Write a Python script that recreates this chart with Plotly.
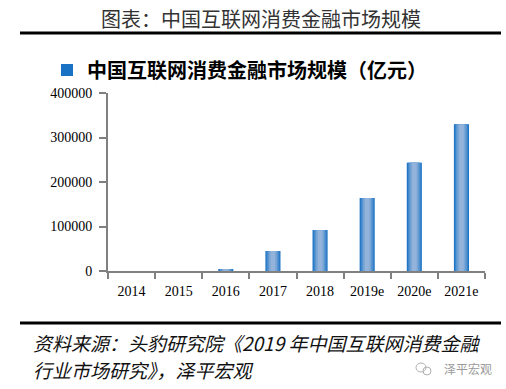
import plotly.graph_objects as go

categories = ["2014", "2015", "2016", "2017", "2018", "2019e", "2020e", "2021e"]
values = [0, 0, 4000, 45000, 92000, 164000, 243000, 330000]
series_name = "中国互联网消费金融市场规模（亿元）"
y_ticks = [0, 100000, 200000, 300000, 400000]

W, H = 506, 389
L, R, T, B = 108, 21, 93, 118
pw, ph = W - L - R, H - T - B

def px_x(x):
    return (x - L) / pw

def px_y(y):
    return (H - B - y) / ph

layers = [
    (0.32, "#1a72c4"),
    (0.28, "#3a84cb"),
    (0.23, "#5a95d0"),
    (0.17, "#78a6d5"),
    (0.10, "#93b3da"),
]

fig = go.Figure()
for i, (w, c) in enumerate(layers):
    fig.add_trace(go.Bar(
        x=categories, y=values, width=w, name=series_name,
        marker=dict(color=c, line=dict(width=0)),
        showlegend=(i == 0), hoverinfo="skip" if i else None,
    ))

fig.update_layout(
    width=W, height=H, margin=dict(l=L, r=R, t=T, b=B, autoexpand=False),
    barmode="overlay", plot_bgcolor="white", paper_bgcolor="white",
    font=dict(family="Liberation Serif", size=14, color="black"),
    showlegend=True,
    legend=dict(orientation="h", x=px_x(47), y=px_y(70), xanchor="left", yanchor="middle",
                font=dict(family="Noto Sans CJK SC", size=20, color="black", weight="bold"),
                bgcolor="rgba(0,0,0,0)", itemwidth=30, tracegroupgap=0),
    xaxis=dict(showline=True, linecolor="#808080", linewidth=2, ticks="outside",
               tickson="boundaries", ticklen=6, tickwidth=2, tickcolor="#808080",
               ticklabelstandoff=6, tickfont=dict(family="Liberation Serif", size=14),
               showgrid=False, fixedrange=True),
    yaxis=dict(range=[0, 400000], tickvals=y_ticks, ticktext=[str(v) for v in y_ticks],
               showline=True, linecolor="#808080", linewidth=2, ticks="outside",
               ticklen=7, tickwidth=2, tickcolor="#808080", showgrid=False, zeroline=False,
               tickfont=dict(family="Liberation Serif", size=14), ticklabelstandoff=4),
)

fig.add_annotation(text="图表：中国互联网消费金融市场规模", xref="paper", yref="paper",
                   x=px_x(261), y=px_y(18), showarrow=False,
                   xanchor="center", yanchor="middle",
                   font=dict(family="Noto Sans CJK SC", size=20, color="#333333"))
for yy in (33, 323):
    fig.add_shape(type="line", xref="paper", yref="paper",
                  x0=px_x(20), x1=px_x(501), y0=px_y(yy), y1=px_y(yy),
                  line=dict(color="black", width=3))
fig.add_annotation(text="<i>资料来源：头豹研究院《2019 年中国互联网消费金融</i>", xref="paper", yref="paper",
                   x=px_x(31), y=px_y(342), showarrow=False, xanchor="left", yanchor="middle",
                   font=dict(family="Noto Sans CJK SC", size=19, color="#111111"))
fig.add_annotation(text="<i>行业市场研究》，泽平宏观</i>", xref="paper", yref="paper",
                   x=px_x(31), y=px_y(369), showarrow=False, xanchor="left", yanchor="middle",
                   font=dict(family="Noto Sans CJK SC", size=19, color="#111111"))
fig.add_annotation(text="泽平宏观", xref="paper", yref="paper",
                   x=px_x(494), y=px_y(368), showarrow=False, xanchor="right", yanchor="middle",
                   font=dict(family="Noto Sans CJK SC", size=12, color="#9a9a9a"))
fig.add_shape(type="circle", xref="paper", yref="paper",
              x0=px_x(416), x1=px_x(426), y0=px_y(372), y1=px_y(363),
              line=dict(color="#b0b0b0", width=1))
fig.add_shape(type="circle", xref="paper", yref="paper",
              x0=px_x(423), x1=px_x(431), y0=px_y(375), y1=px_y(367),
              line=dict(color="#b0b0b0", width=1))

fig.write_html("out.html", config={"displayModeBar": False},
               post_script="document.body.style.margin='0';")
